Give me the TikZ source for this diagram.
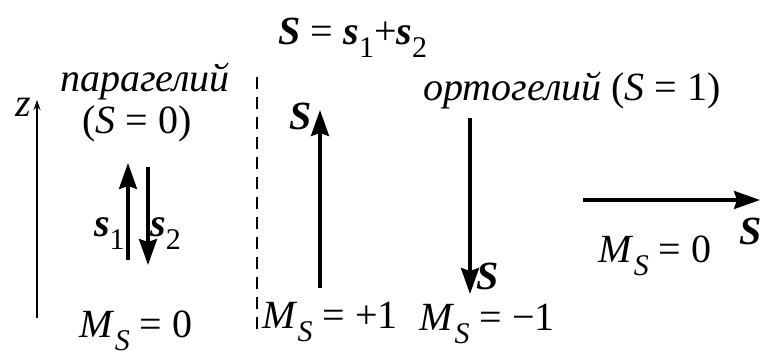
\documentclass[tikz,border=0pt]{standalone}
\usepackage{fontspec}
\setmainfont{Liberation Serif}
\usetikzlibrary{arrows.meta}
\newcommand{\sub}[1]{\raisebox{-0.32em}{\fontsize{15}{15}\selectfont #1}}
\newcommand{\vecS}{\textbf{\textit{S}}}
\newcommand{\vecs}[1]{\textbf{\textit{s}}\sub{#1}}
\newcommand{\MS}{\textit{M}\sub{\textit{S}}}
\begin{document}
\begin{tikzpicture}[x=0.5pt, y=-0.5pt,
    every node/.style={font=\fontsize{20}{24}\selectfont, inner sep=0pt},
    spin/.style={line width=1.6pt, -{Stealth[length=13pt, width=9pt, inset=1.5pt]}},
    axis/.style={line width=0.6pt, -{Stealth[length=5pt, width=3.5pt]}}]
    \useasboundingbox (0,0) rectangle (762,356);

    % заголовок
    \node[anchor=base] (title) at (353,45) {\vecS{} = \vecs{1}+\vecs{2}};

    % ось z
    \coordinate (z0) at (37,318);
    \coordinate (z1) at (37,100);
    \draw[axis] (z0) -- (z1);
    \node[anchor=base east] (zlab) at (31,117) {\textit{z}};

    % парагелий
    \node[anchor=base] (para) at (145,92) {\textit{парагелий}};
    \node[anchor=base] (paraS) at (137,134) {(\textit{S} = 0)};
    \coordinate (s1a) at (128,260);
    \coordinate (s1b) at (128,163);
    \coordinate (s2a) at (148,167);
    \coordinate (s2b) at (148,265);
    \draw[spin] (s1a) -- (s1b);
    \draw[spin] (s2a) -- (s2b);
    \node[anchor=base east] (s1lab) at (125,237) {\vecs{1}};
    \node[anchor=base west] (s2lab) at (150,237) {\vecs{2}};
    \node[anchor=base] (ms0) at (136,338) {\MS{} = 0};

    % разделитель
    \coordinate (d0) at (257,77);
    \coordinate (d1) at (257,334);
    \draw[dashed, line width=0.6pt, dash pattern=on 6pt off 4pt] (d0) -- (d1);

    % ортогелий
    \node[anchor=base] (ortho) at (572,101) {\textit{ортогелий} (\textit{S} = 1)};

    % M_S = +1
    \coordinate (up0) at (320,288);
    \coordinate (up1) at (320,110);
    \draw[spin] (up0) -- (up1);
    \node[anchor=base east] (Sup) at (312,130) {\vecS};
    \node[anchor=base] (msp) at (330,329) {\MS{} = +1};

    % M_S = -1
    \coordinate (dn0) at (470,118);
    \coordinate (dn1) at (470,294);
    \draw[spin] (dn0) -- (dn1);
    \node[anchor=base west] (Sdn) at (476,290) {\vecS};
    \node[anchor=base] (msm) at (487,331) {\MS{} = −1};

    % M_S = 0
    \coordinate (rt0) at (583,200);
    \coordinate (rt1) at (760,200);
    \draw[spin] (rt0) -- (rt1);
    \node[anchor=base east] (Srt) at (762,245) {\vecS};
    \node[anchor=base] (msz) at (655,263) {\MS{} = 0};
\end{tikzpicture}
\end{document}
